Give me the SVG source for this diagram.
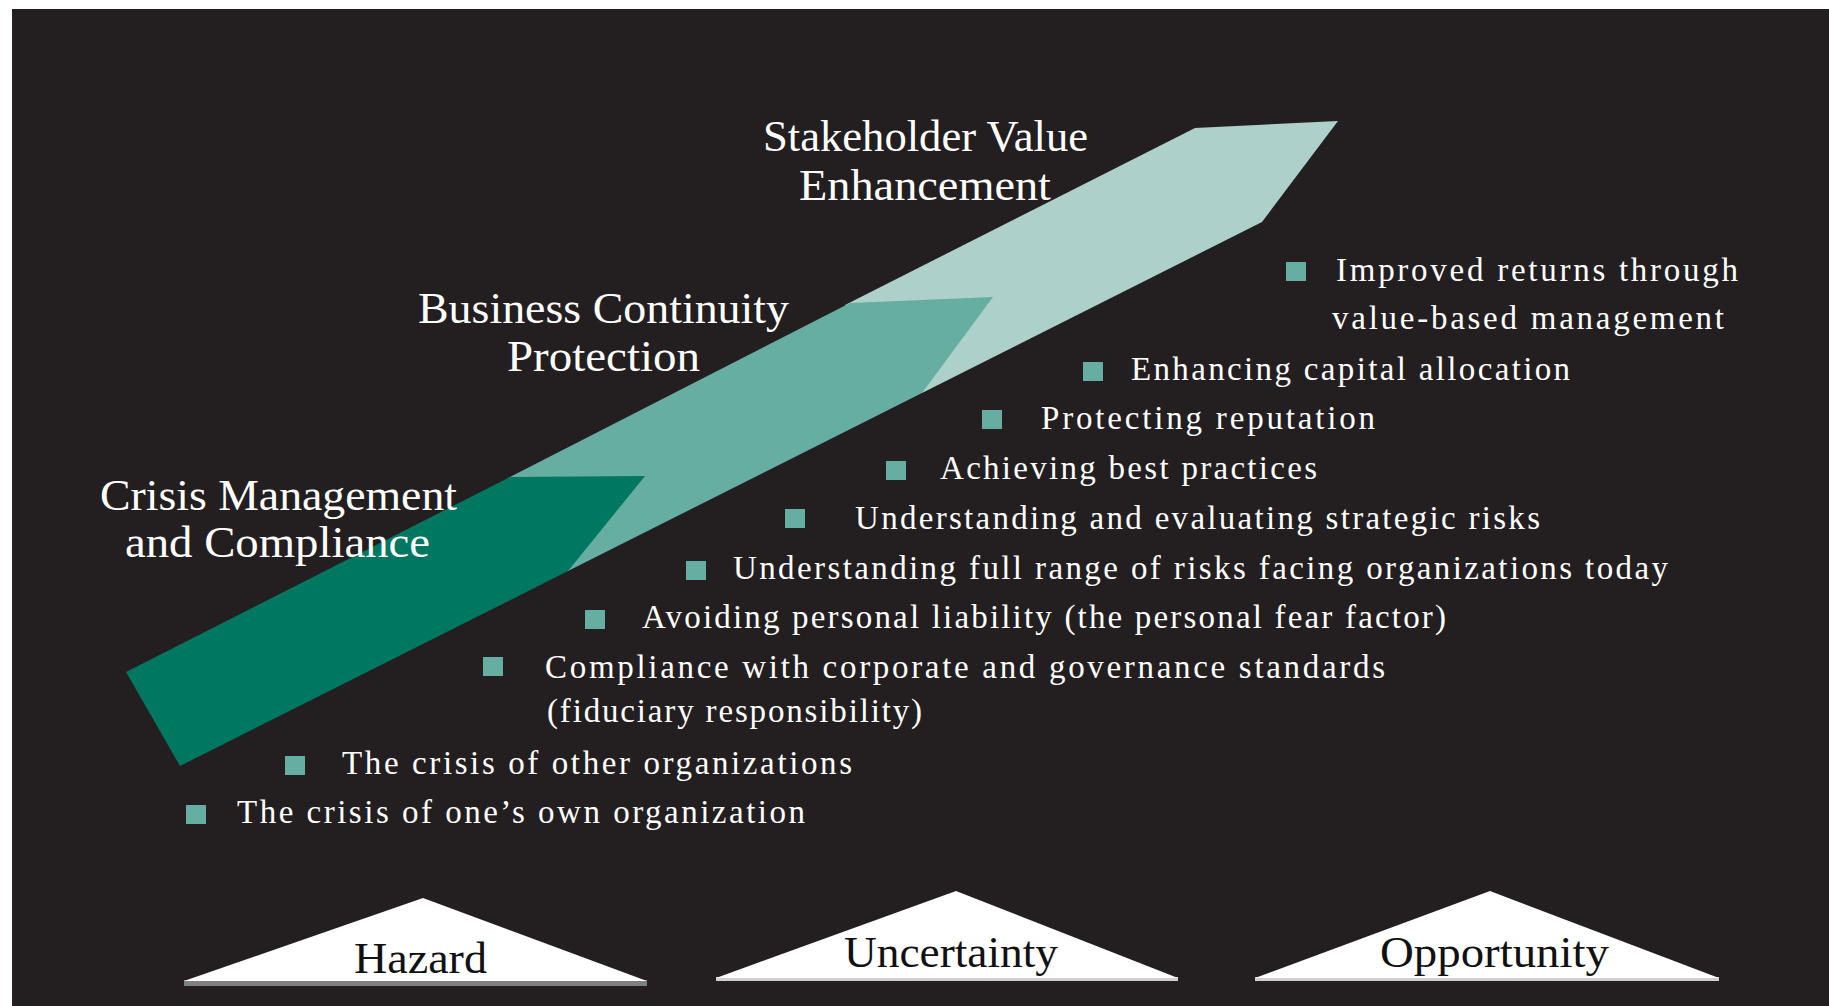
<svg xmlns="http://www.w3.org/2000/svg" width="1829" height="1006" viewBox="0 0 1829 1006">
<style>
.title{font-family:"Liberation Serif","DejaVu Serif",serif;font-size:44px;fill:#ffffff;}
.item{font-family:"Liberation Serif","DejaVu Serif",serif;font-size:33px;fill:#ffffff;}
.bullet{fill:#66ada2;}
.tri{fill:#ffffff;}
.tlabel{font-family:"Liberation Serif","DejaVu Serif",serif;font-size:44px;fill:#111111;}
</style>
<rect x="0" y="0" width="1829" height="1006" fill="#ffffff"/>
<rect x="12" y="9" width="1817" height="997" fill="#231f20"/>
<g id="band">
<polygon points="845,305 1195,128 1338,121 1262,222 922,393" fill="#aed0ca"/>
<polygon points="508,478 850,303 993,297 922,393 568,571" fill="#66ada2"/>
<polygon points="126,672 510,477 645,476 568,571 180,766" fill="#007760"/>
</g>
<g id="title-stakeholder">
<text class="title" x="763" y="151" textLength="325" lengthAdjust="spacingAndGlyphs">Stakeholder Value</text>
<text class="title" x="799" y="200" textLength="252" lengthAdjust="spacingAndGlyphs">Enhancement</text>
</g>
<g id="title-business">
<text class="title" x="418" y="323" textLength="371" lengthAdjust="spacingAndGlyphs">Business Continuity</text>
<text class="title" x="507" y="371" textLength="193" lengthAdjust="spacingAndGlyphs">Protection</text>
</g>
<g id="title-crisis">
<text class="title" x="100" y="510" textLength="357" lengthAdjust="spacingAndGlyphs">Crisis Management</text>
<text class="title" x="125" y="557" textLength="305" lengthAdjust="spacingAndGlyphs">and Compliance</text>
</g>
<g id="item-1">
<rect class="bullet" x="1286" y="262" width="20" height="19"/>
<text class="item" x="1336" y="281" textLength="402" lengthAdjust="spacing">Improved returns through</text>
<text class="item" x="1332" y="329" textLength="392" lengthAdjust="spacing">value-based management</text>
</g>
<g id="item-2">
<rect class="bullet" x="1083" y="362" width="20" height="19"/>
<text class="item" x="1131" y="380" textLength="439" lengthAdjust="spacing">Enhancing capital allocation</text>
</g>
<g id="item-3">
<rect class="bullet" x="982" y="410" width="20" height="19"/>
<text class="item" x="1041" y="429" textLength="334" lengthAdjust="spacing">Protecting reputation</text>
</g>
<g id="item-4">
<rect class="bullet" x="886" y="461" width="20" height="19"/>
<text class="item" x="940" y="479" textLength="377" lengthAdjust="spacing">Achieving best practices</text>
</g>
<g id="item-5">
<rect class="bullet" x="785" y="509" width="20" height="19"/>
<text class="item" x="855" y="529" textLength="685" lengthAdjust="spacing">Understanding and evaluating strategic risks</text>
</g>
<g id="item-6">
<rect class="bullet" x="686" y="561" width="20" height="19"/>
<text class="item" x="733" y="579" textLength="935" lengthAdjust="spacing">Understanding full range of risks facing organizations today</text>
</g>
<g id="item-7">
<rect class="bullet" x="585" y="610" width="20" height="19"/>
<text class="item" x="642" y="628" textLength="804" lengthAdjust="spacing">Avoiding personal liability (the personal fear factor)</text>
</g>
<g id="item-8">
<rect class="bullet" x="483" y="657" width="20" height="19"/>
<text class="item" x="545" y="678" textLength="840" lengthAdjust="spacing">Compliance with corporate and governance standards</text>
<text class="item" x="547" y="722" textLength="375" lengthAdjust="spacing">(fiduciary responsibility)</text>
</g>
<g id="item-9">
<rect class="bullet" x="285" y="756" width="20" height="19"/>
<text class="item" x="342" y="774" textLength="510" lengthAdjust="spacing">The crisis of other organizations</text>
</g>
<g id="item-10">
<rect class="bullet" x="186" y="805" width="20" height="19"/>
<text class="item" x="237" y="823" textLength="568" lengthAdjust="spacing">The crisis of one’s own organization</text>
</g>
<g id="hazard">
<rect x="184" y="980" width="463" height="6" fill="#808080"/>
<polygon class="tri" points="423,898 647,981 184,981"/>
<text class="tlabel" x="354" y="973" textLength="133" lengthAdjust="spacingAndGlyphs">Hazard</text>
</g>
<g id="uncertainty">
<rect x="716" y="977" width="462" height="4" fill="#cfcfcf"/>
<polygon class="tri" points="956,891 1178,978 716,978"/>
<text class="tlabel" x="844" y="967" textLength="214" lengthAdjust="spacingAndGlyphs">Uncertainty</text>
</g>
<g id="opportunity">
<rect x="1255" y="977" width="464" height="4" fill="#cfcfcf"/>
<polygon class="tri" points="1490,891 1719,978 1255,978"/>
<text class="tlabel" x="1380" y="967" textLength="229" lengthAdjust="spacingAndGlyphs">Opportunity</text>
</g>
</svg>
